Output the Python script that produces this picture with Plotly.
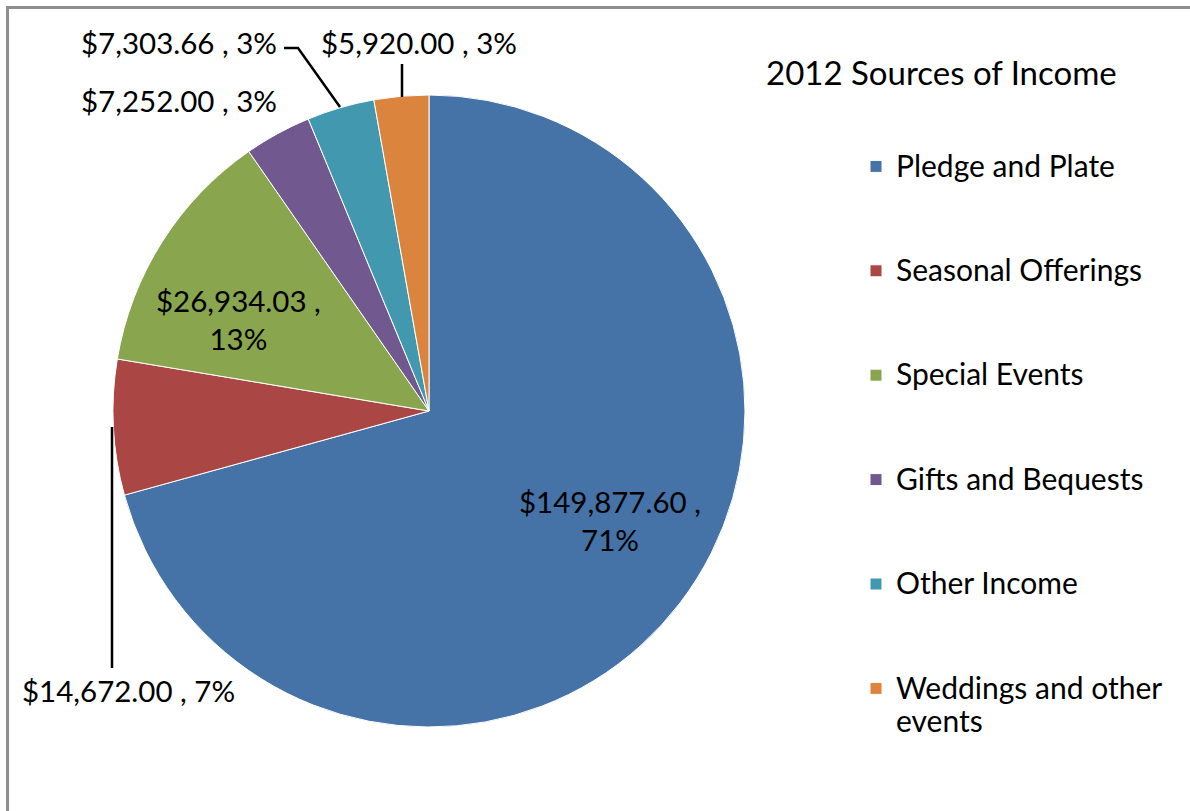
import plotly.graph_objects as go

W, H = 1190, 811

categories = ["Pledge and Plate", "Seasonal Offerings", "Special Events",
              "Gifts and Bequests", "Other Income", "Weddings and other events"]
values = [149877.60, 14672.00, 26934.03, 7252.00, 7303.66, 5920.00]
colors = ["#4572A7", "#AA4643", "#89A54E", "#71588F", "#4198AF", "#DB843D"]
title_text = "2012 Sources of Income"

FONT = "Lato, 'Open Sans', sans-serif"


def px(x):
    return x / W


def py(y):
    return 1 - y / H


total = sum(values)
pcts = [v / total * 100 for v in values]


def lab(i, br=False):
    money = "${:,.2f}".format(values[i])
    pct = "{:.0f}%".format(pcts[i])
    return money + (" ,<br>" if br else " , ") + pct


def big(s):
    return "<span style='font-size:30px'>" + s + "</span>"


# legend labels: padded with blank lines to reproduce the wide spacing
legend_labels = []
for c in categories:
    if c == "Weddings and other events":
        legend_labels.append(big("Weddings and other") + "<br>" + big("events"))
    else:
        legend_labels.append(big(c) + "<br>&nbsp;<br>&nbsp;")

fig = go.Figure()
fig.add_trace(go.Pie(
    labels=legend_labels,
    values=values,
    sort=False,
    direction="clockwise",
    rotation=0,
    marker=dict(colors=colors, line=dict(color="white", width=1)),
    textinfo="none",
    hoverinfo="label+value+percent",
    domain=dict(x=[px(113), px(745)], y=[py(727), py(95)]),
    showlegend=True,
))

ann = []
# inside labels
ann.append(dict(x=px(610), y=py(520), text=lab(0, br=True)))
ann.append(dict(x=px(238), y=py(320), text=lab(2, br=True)))
# outside labels
ann.append(dict(x=px(128), y=py(690), text=lab(1)))
ann.append(dict(x=px(179), y=py(101), text=lab(3)))
ann.append(dict(x=px(179), y=py(42), text=lab(4)))
ann.append(dict(x=px(419), y=py(42), text=lab(5)))
annotations = []
for a in ann:
    a.update(xref="paper", yref="paper", showarrow=False,
             xanchor="center", yanchor="middle",
             font=dict(family=FONT, size=29.5, color="#000000"))
    annotations.append(a)

shapes = [
    # chart border
    dict(type="rect", xref="paper", yref="paper", x0=px(7.5), x1=px(1205),
         y0=py(830), y1=py(7.5), line=dict(color="#8E8E8E", width=3),
         fillcolor="rgba(0,0,0,0)", layer="below"),
    # leader lines
    dict(type="line", xref="paper", yref="paper", x0=px(112), x1=px(112),
         y0=py(427), y1=py(668), line=dict(color="black", width=2.5)),
    dict(type="line", xref="paper", yref="paper", x0=px(402), x1=px(402),
         y0=py(64), y1=py(97), line=dict(color="black", width=2.5)),
    dict(type="path", xref="paper", yref="paper",
         path="M{},{} L{},{} L{},{}".format(px(284), py(48), px(298), py(48),
                                             px(340), py(107)),
         line=dict(color="black", width=2.5)),
]

fig.update_layout(
    width=W, height=H,
    margin=dict(l=0, r=0, t=0, b=0),
    paper_bgcolor="white", plot_bgcolor="white",
    font=dict(family=FONT, size=26, color="#000000"),
    title=dict(text=title_text, x=px(766), xanchor="left", y=py(73),
               yanchor="middle", font=dict(family=FONT, size=33, color="#000000")),
    legend=dict(x=px(856), xanchor="left", y=py(143), yanchor="top",
                valign="top", font=dict(family=FONT, size=26, color="#000000"),
                bgcolor="rgba(0,0,0,0)", borderwidth=0),
    annotations=annotations,
    shapes=shapes,
)

fig.write_html("out.html", config={"displayModeBar": False},
               post_script="document.body.style.margin='0';")
